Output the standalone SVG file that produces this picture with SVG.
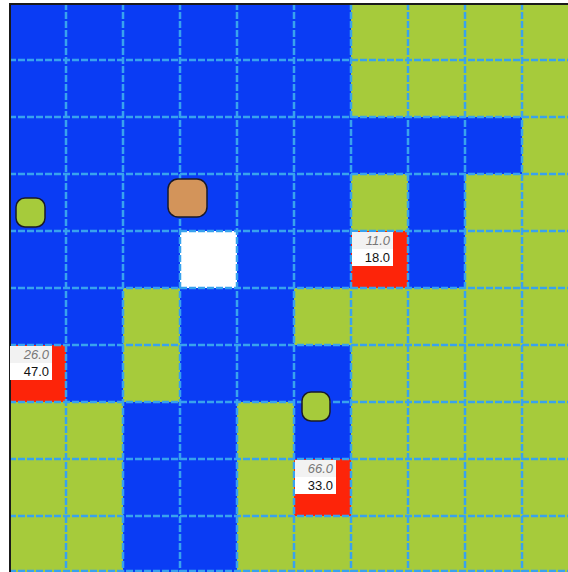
<svg xmlns="http://www.w3.org/2000/svg" width="568" height="572" viewBox="0 0 568 572">
<style>
.b{fill:#0a3cf4}
.g{fill:#a6cb3b}
.w{fill:#ffffff}
.r{fill:#fd2409}
.grid{stroke:#38a2ee;stroke-width:2.5;stroke-dasharray:7 2;fill:none}
.lb1{fill:#f2f2f2}
.lb2{fill:#ffffff}
.t1{font-family:"Liberation Sans",Arial,sans-serif;font-size:13px;font-style:italic;fill:#777777;text-anchor:end}
.t2{font-family:"Liberation Sans",Arial,sans-serif;font-size:13px;fill:#111;text-anchor:end}
.tok{stroke:#1a1a2a;stroke-width:1.5}
</style>
<rect x="0" y="0" width="568" height="572" fill="#ffffff"/>
<g id="cells">
<rect class="b" x="9" y="3" width="342" height="57"/>
<rect class="g" x="351" y="3" width="228" height="57"/>
<rect class="b" x="9" y="60" width="342" height="57"/>
<rect class="g" x="351" y="60" width="228" height="57"/>
<rect class="b" x="9" y="117" width="513" height="57"/>
<rect class="g" x="522" y="117" width="57" height="57"/>
<rect class="b" x="9" y="174" width="342" height="57"/>
<rect class="g" x="351" y="174" width="57" height="57"/>
<rect class="b" x="408" y="174" width="57" height="57"/>
<rect class="g" x="465" y="174" width="114" height="57"/>
<rect class="b" x="9" y="231" width="171" height="57"/>
<rect class="w" x="180" y="231" width="57" height="57"/>
<rect class="b" x="237" y="231" width="114" height="57"/>
<rect class="r" x="351" y="231" width="57" height="57"/>
<rect class="b" x="408" y="231" width="57" height="57"/>
<rect class="g" x="465" y="231" width="114" height="57"/>
<rect class="b" x="9" y="288" width="114" height="57"/>
<rect class="g" x="123" y="288" width="57" height="57"/>
<rect class="b" x="180" y="288" width="114" height="57"/>
<rect class="g" x="294" y="288" width="285" height="57"/>
<rect class="r" x="9" y="345" width="57" height="57"/>
<rect class="b" x="66" y="345" width="57" height="57"/>
<rect class="g" x="123" y="345" width="57" height="57"/>
<rect class="b" x="180" y="345" width="171" height="57"/>
<rect class="g" x="351" y="345" width="228" height="57"/>
<rect class="g" x="9" y="402" width="114" height="57"/>
<rect class="b" x="123" y="402" width="114" height="57"/>
<rect class="g" x="237" y="402" width="57" height="57"/>
<rect class="b" x="294" y="402" width="57" height="57"/>
<rect class="g" x="351" y="402" width="228" height="57"/>
<rect class="g" x="9" y="459" width="114" height="57"/>
<rect class="b" x="123" y="459" width="114" height="57"/>
<rect class="g" x="237" y="459" width="57" height="57"/>
<rect class="r" x="294" y="459" width="57" height="57"/>
<rect class="g" x="351" y="459" width="228" height="57"/>
<rect class="g" x="9" y="516" width="114" height="57"/>
<rect class="b" x="123" y="516" width="114" height="57"/>
<rect class="g" x="237" y="516" width="342" height="57"/>
</g>
<g id="connectors" class="grid">
<path d="M66 3V572M123 3V572M180 3V572M237 3V572M294 3V572M351 3V572M408 3V572M465 3V572M522 3V572"/>
<path d="M9 60H568M9 117H568M9 174H568M9 231H568M9 288H568M9 345H568M9 402H568M9 459H568M9 516H568M9 571H568"/>
</g>
<path d="M10 572V4H568" fill="none" stroke="#1a1a1a" stroke-width="2"/>
<g id="label-a">
<rect class="lb1" x="352" y="232" width="41" height="17"/>
<rect class="lb2" x="352" y="249" width="41" height="17"/>
<text class="t1" x="390" y="245">11.0</text>
<text class="t2" x="390" y="262">18.0</text>
</g>
<g id="label-b">
<rect class="lb1" x="10" y="346" width="42" height="17"/>
<rect class="lb2" x="10" y="363" width="42" height="17"/>
<text class="t1" x="49" y="359">26.0</text>
<text class="t2" x="49" y="376">47.0</text>
</g>
<g id="label-c">
<rect class="lb1" x="295" y="460" width="41" height="17"/>
<rect class="lb2" x="295" y="477" width="41" height="17"/>
<text class="t1" x="333" y="473">66.0</text>
<text class="t2" x="333" y="490">33.0</text>
</g>
<g id="token-orange"><rect class="tok" x="168" y="179" width="39" height="38" rx="10" fill="#d3945a"/></g>
<g id="token-green-1"><rect class="tok" x="16" y="198" width="29" height="29" rx="9" fill="#a6cb3b"/></g>
<g id="token-green-2"><rect class="tok" x="302" y="392" width="28" height="29" rx="9" fill="#a6cb3b"/></g>
</svg>
